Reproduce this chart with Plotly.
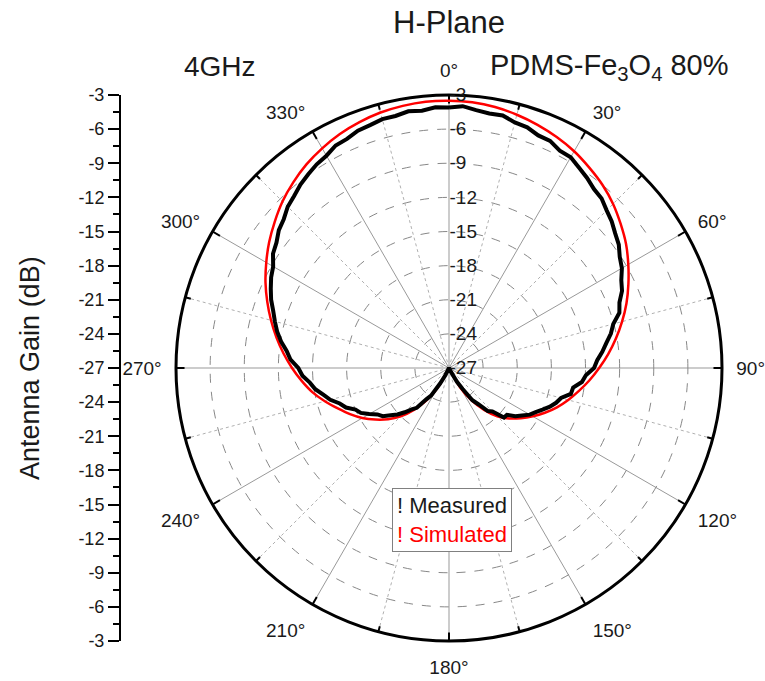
import plotly.graph_objects as go

# Simulated gain pattern (dB), every 5 degrees
sim_theta = list(range(0, 365, 5))
sim_gain = [
    -3.5, -3.55, -3.7, -3.95, -4.25, -4.6, -5.0, -5.5, -6.0, -6.6, -7.3, -8.0,
    -8.8, -9.6, -10.4, -11.25, -12.1, -12.95, -13.8, -14.6, -15.4, -16.15, -16.9, -17.7,
    -18.5, -19.3, -20.1, -21.0, -22.2, -23.5, -25.0, -27.0, -27.0, -27.0, -27.0, -27.0,
    -27.0, -27.0, -27.0, -27.0, -27.0, -27.0, -25.0, -23.5, -22.2, -21.0, -20.0, -19.1,
    -18.2, -17.4, -16.6, -15.7, -14.8, -14.0, -13.2, -12.4, -11.6, -10.8, -10.0, -9.2,
    -8.45, -7.7, -7.0, -6.3, -5.7, -5.15, -4.7, -4.3, -4.0, -3.75, -3.6, -3.5, -3.5,
]

# Measured gain pattern (dB), every 3 degrees
meas_theta = list(range(0, 363, 3))
meas_gain = [
    -4.1, -3.95, -4.2, -4.35, -4.3, -4.65, -4.75, -5.1, -5.15, -5.55,
    -5.6, -6.0, -6.35, -6.75, -6.95, -7.4, -7.75, -8.2, -8.55, -9.1,
    -9.45, -10.0, -10.35, -10.95, -11.25, -12.05, -12.45, -13.0, -13.45, -13.95,
    -14.25, -14.95, -15.25, -15.95, -16.05, -16.8, -17.1, -17.5, -18.0, -18.45,
    -18.8, -19.35, -19.8, -20.45, -20.5, -21.6, -21.9, -22.9, -23.5, -24.8,
    -25.6, -26.6, -27.0, -27.0, -27.0, -27.0, -27.0, -27.0, -27.0, -27.0,
    -27.0, -27.0, -27.0, -27.0, -27.0, -27.0, -27.0, -27.0, -27.0, -26.2,
    -25.4, -24.1, -23.6, -22.5, -22.1, -21.5, -20.9, -20.4, -19.8, -19.5,
    -18.9, -18.3, -18.0, -17.3, -16.9, -16.2, -15.7, -15.1, -14.7, -14.1,
    -13.75, -13.05, -12.65, -12.05, -11.55, -11.15, -10.75, -10.25, -9.85, -9.45,
    -9.15, -8.55, -8.25, -7.75, -7.45, -6.95, -6.65, -6.25, -5.95, -5.65,
    -5.45, -5.05, -4.95, -4.65, -4.55, -4.35, -4.35, -4.15, -4.25, -4.05,
    -4.1,
]

radial_ticks = [-27, -24, -21, -18, -15, -12, -9, -6, -3]
angle_ticks = list(range(0, 360, 30))
angle_labels = [f"{a}°" for a in angle_ticks]
gain_labels = ["-3", "-6", "-9", "-12", "-15", "-18", "-21", "-24", "-27",
               "-24", "-21", "-18", "-15", "-12", "-9", "-6", "-3"]

W, H = 765, 681
CX, CY, R = 449, 368, 273
FONT = "Liberation Sans, Arial, sans-serif"
TXT = "#1a1a1a"

fig = go.Figure()

# dotted radial lines halfway between the labelled spokes
mid_angles = [a + 15 for a in angle_ticks]
r_spokes, t_spokes = [], []
for a in mid_angles:
    r_spokes += [-27, -3, None]
    t_spokes += [a, a, None]
fig.add_trace(go.Scatterpolar(r=r_spokes, theta=t_spokes, mode="lines",
                              line=dict(color="#b0b0b0", width=1, dash="dot"),
                              hoverinfo="skip", showlegend=False))

# inward tick marks on the outer ring: long at labelled spokes, short in between
r_ticks, t_ticks = [], []
for a in angle_ticks:
    r_ticks += [-3.75, -3, None]
    t_ticks += [a, a, None]
for a in mid_angles:
    r_ticks += [-3.5, -3, None]
    t_ticks += [a, a, None]
fig.add_trace(go.Scatterpolar(r=r_ticks, theta=t_ticks, mode="lines",
                              line=dict(color="black", width=2),
                              hoverinfo="skip", showlegend=False))

fig.add_trace(go.Scatterpolar(r=sim_gain, theta=sim_theta, mode="lines",
                              name="Simulated",
                              line=dict(color="#ff0000", width=2.5, shape="spline"),
                              showlegend=False))
fig.add_trace(go.Scatterpolar(r=meas_gain, theta=meas_theta, mode="lines",
                              name="Measured", line=dict(color="black", width=4),
                              showlegend=False))

# left-hand linear gain scale spanning the polar diameter
ypos = list(range(-24, 25, 3))
fig.add_trace(go.Scatter(x=[0, 0], y=[-24, 24], mode="lines",
                         line=dict(color="rgba(0,0,0,0)"), hoverinfo="skip",
                         showlegend=False, xaxis="x", yaxis="y"))

dom_x = [(CX - R) / W, (CX + R) / W]
dom_y = [1 - (CY + R) / H, 1 - (CY - R) / H]
axis_x = 120 / W

fig.update_layout(
    width=W, height=H,
    margin=dict(l=0, r=0, t=0, b=0, pad=0, autoexpand=False),
    paper_bgcolor="white", plot_bgcolor="white",
    font=dict(family=FONT, color=TXT),
    polar=dict(
        domain=dict(x=dom_x, y=dom_y),
        bgcolor="white",
        angularaxis=dict(
            rotation=90, direction="clockwise",
            tickvals=angle_ticks, ticktext=angle_labels,
            tickfont=dict(size=19, family=FONT, color=TXT),
            ticks="outside", ticklen=9, tickwidth=1, tickcolor="rgba(0,0,0,0)",
            showline=True, linecolor="black", linewidth=3,
            showgrid=True, gridcolor="#999999", gridwidth=1.3,
        ),
        radialaxis=dict(
            range=[-27, -3], tickvals=radial_ticks,
            ticktext=[str(v) for v in radial_ticks],
            angle=90, tickangle=90, side="clockwise",
            showline=False, ticks="", layer="above traces",
            tickfont=dict(size=19, family=FONT, color=TXT),
            showgrid=True, gridcolor="#888888", gridwidth=1.2, griddash="dash",
        ),
    ),
    xaxis=dict(domain=[0, axis_x], visible=False, range=[-1, 0],
               fixedrange=True, automargin=False),
    yaxis=dict(
        domain=dom_y, range=[-24, 24], anchor="free", position=axis_x, side="left",
        automargin=False,
        showline=True, linecolor="black", linewidth=2,
        tickvals=ypos, ticktext=gain_labels[::-1],
        ticks="outside", ticklen=11, tickwidth=2, tickcolor="black",
        tickfont=dict(size=18, family=FONT, color=TXT),
        minor=dict(dtick=1.5, ticks="outside", ticklen=6, tickwidth=2, tickcolor="black"),
        showgrid=False, zeroline=False,
    ),
)


def label(text, x, y, size, **kw):
    fig.add_annotation(text=text, x=x / W, y=1 - y / H, xref="paper", yref="paper",
                       xanchor="center", yanchor="middle", showarrow=False,
                       font=dict(size=size, family=FONT, color=TXT), **kw)


label("Antenna Gain (dB)", 30, CY, 27, textangle=-90)
label("H-Plane", CX, 22, 31)
label("4GHz", 220, 67, 28)
label("PDMS-Fe<sub>3</sub>O<sub>4</sub> 80%", 609, 67, 29)
label("! Measured<br><span style='color:#ff0000'>! Simulated</span>", 452, 520, 22,
      align="left", bgcolor="white", bordercolor="#808080", borderwidth=1, borderpad=4)

fig.write_html("out.html")
